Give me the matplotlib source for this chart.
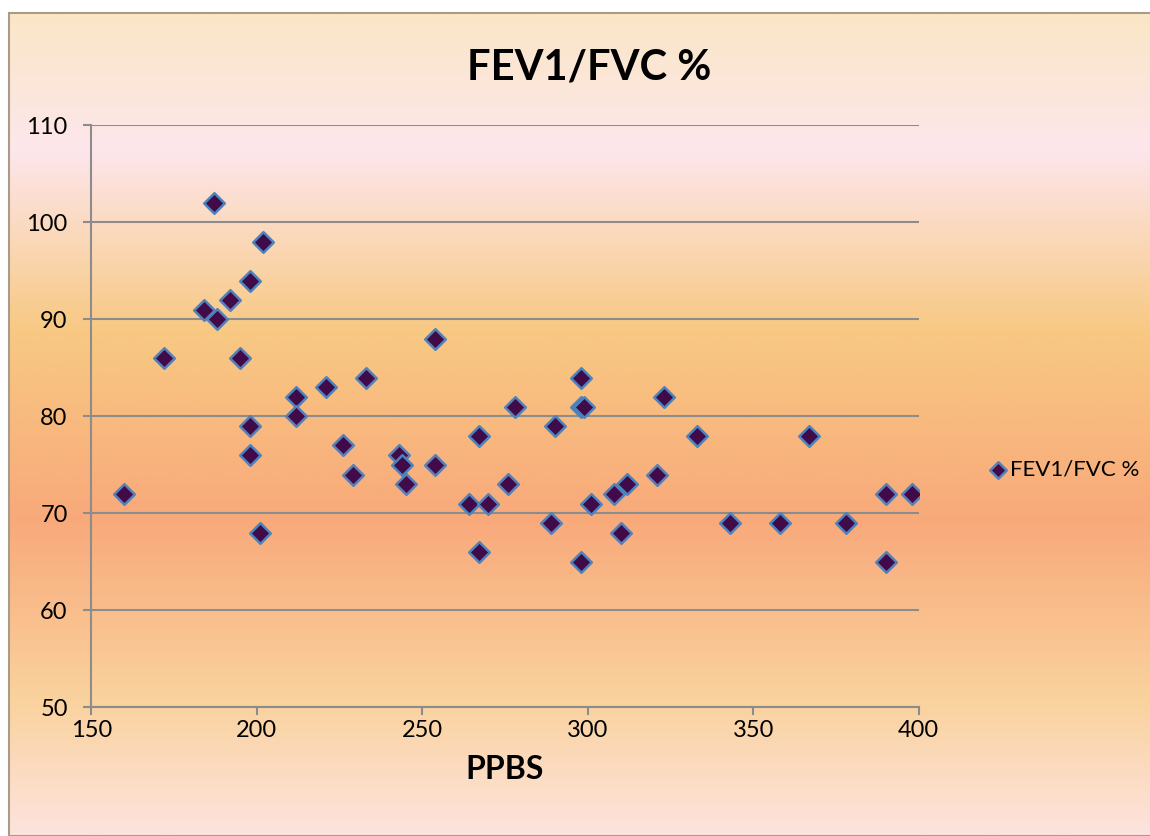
import numpy as np
import matplotlib
matplotlib.use("Agg")
import matplotlib.pyplot as plt
from matplotlib.colors import LinearSegmentedColormap
from matplotlib.patches import Rectangle

plt.rcParams['font.family'] = ['Lato', 'DejaVu Sans']

# PPBS vs FEV1/FVC %
ppbs = [160, 172, 184, 187, 188, 192, 195, 198, 198, 198, 201, 202, 212, 212,
        221, 226, 229, 233, 243, 244, 245, 254, 254, 264, 267, 267, 270, 276,
        278, 289, 290, 298, 298, 298, 299, 301, 308, 310, 312, 321, 323, 333,
        343, 358, 367, 378, 390, 390, 398]
fev_fvc = [72, 86, 91, 102, 90, 92, 86, 94, 79, 76, 68, 98, 82, 80,
           83, 77, 74, 84, 76, 75, 73, 88, 75, 71, 78, 66, 71, 73,
           81, 69, 79, 81, 84, 65, 81, 71, 72, 68, 73, 74, 82, 78,
           69, 69, 78, 69, 72, 65, 72]

x_ticks = [150, 200, 250, 300, 350, 400]
y_ticks = [50, 60, 70, 80, 90, 100, 110]

W, H = 1150, 836
fig = plt.figure(figsize=(W / 100, H / 100), dpi=100)
fig.patch.set_facecolor('white')

# background fill of the chart area
bg_stops = [(0.0, '#FAE7C6'), (0.166, '#FDE6EC'), (0.385, '#F8C983'),
            (0.616, '#F8A97A'), (0.836, '#FAD29D'), (1.0, '#FDE3DE')]
cmap = LinearSegmentedColormap.from_list('bg', bg_stops)
bg = fig.add_axes([9 / W, 0, 1 - 9 / W, (H - 13) / H], zorder=0)
bg.imshow(np.linspace(0, 1, 400).reshape(-1, 1), cmap=cmap, aspect='auto',
          extent=[0, 1, 0, 1])
bg.set_axis_off()
fig.patches.append(Rectangle((9 / W, 0), 1.0, (H - 13) / H, transform=fig.transFigure,
                             fill=False, edgecolor='#A89C88', lw=1.5, zorder=1))

ax = fig.add_axes([91.3 / W, (H - 707.3) / H, (918.7 - 91.3) / W, (707.3 - 125.3) / H],
                  zorder=2)
ax.patch.set_alpha(0)

ax.scatter(ppbs, fev_fvc, marker='D', s=110, facecolor='#400B48',
           edgecolor='#4F81BD', linewidth=1.8, zorder=3, label='FEV1/FVC %')

ax.set_xlim(150, 400)
ax.set_ylim(50, 110)
ax.set_xticks(x_ticks)
ax.set_yticks(y_ticks)
ax.yaxis.grid(True, color='#8C8C8C', lw=1.5)
ax.set_axisbelow(True)
for s in ['top', 'right']:
    ax.spines[s].set_visible(False)
for s in ['left', 'bottom']:
    ax.spines[s].set_color('#8C8C8C')
    ax.spines[s].set_linewidth(1.5)
ax.tick_params(direction='out', length=6, width=1.5, color='#8C8C8C',
               labelsize=17)
ax.tick_params(axis='x', pad=3)
ax.tick_params(axis='y', pad=11)

ax.set_xlabel('PPBS', fontsize=23, fontweight='bold', labelpad=10)
fig.text(589 / W, 1 - 68 / H, 'FEV1/FVC %', fontsize=30, fontweight='bold',
         ha='center', va='center')

ax.legend(loc='center left', bbox_to_anchor=(978 / W, 1 - 470 / H),
          bbox_transform=fig.transFigure, frameon=False, fontsize=16,
          handletextpad=0.05, handlelength=1.0, markerscale=0.8, borderaxespad=0)

fig.savefig('out.png', dpi=100)
